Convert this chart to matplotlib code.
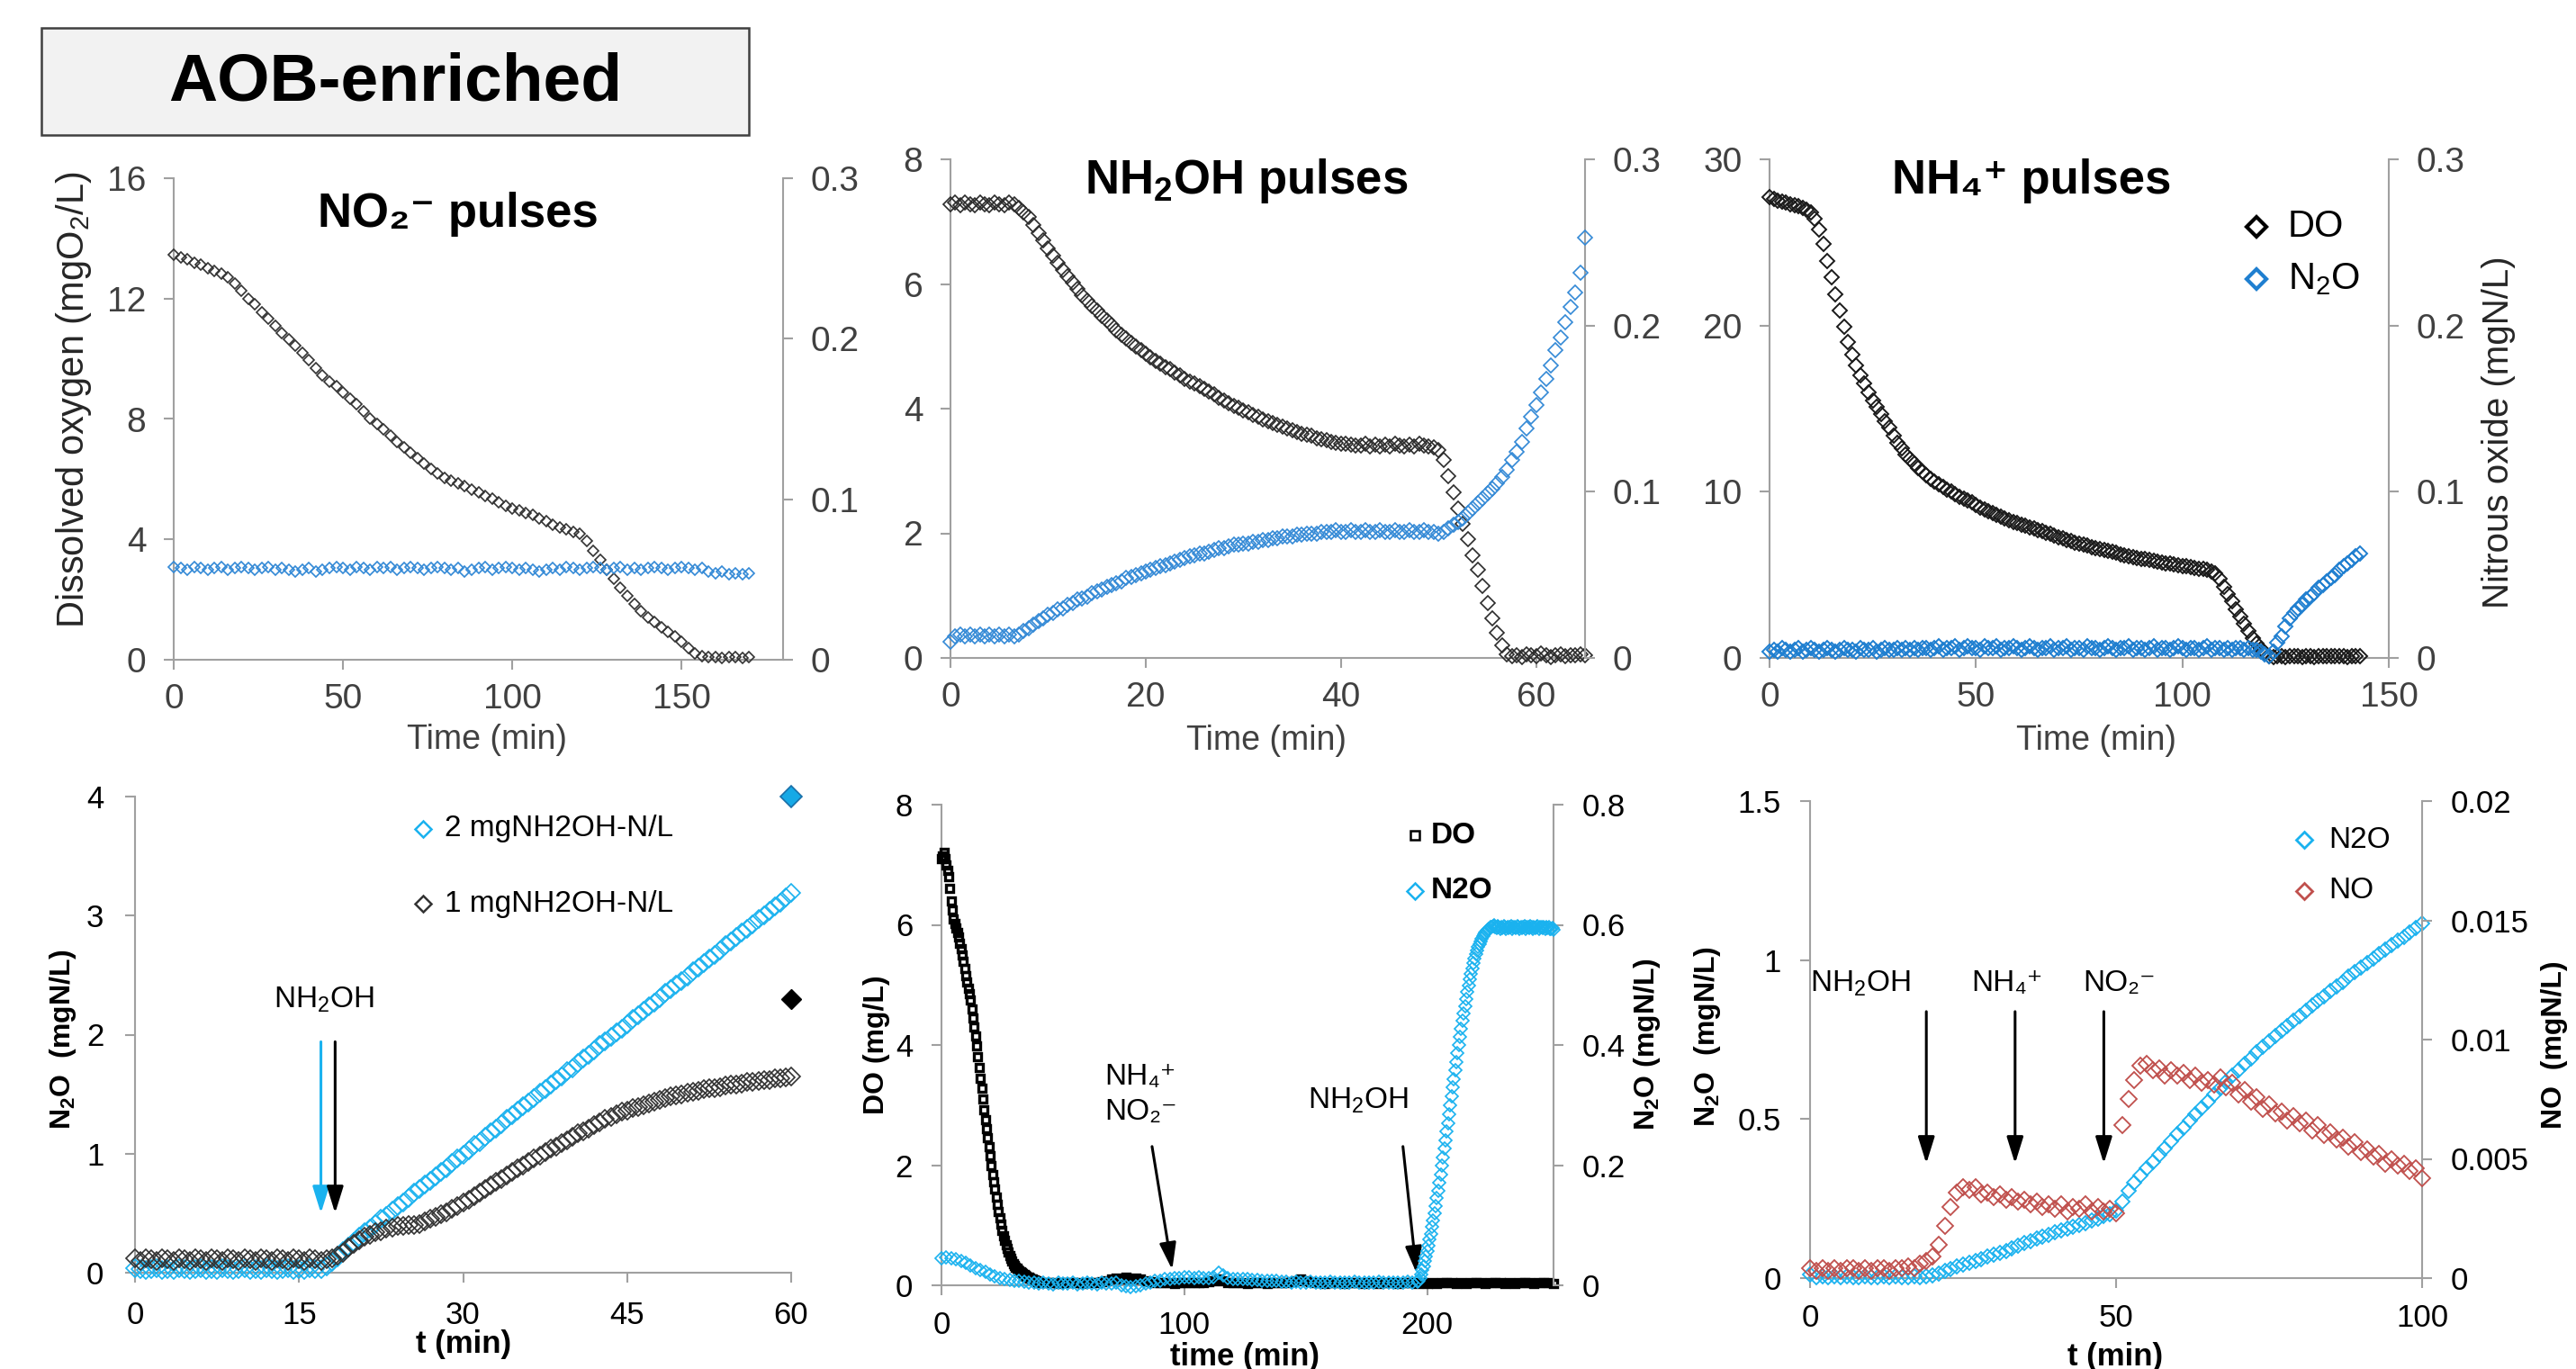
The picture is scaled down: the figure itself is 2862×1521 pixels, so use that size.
import numpy as np
import matplotlib.pyplot as plt
from matplotlib.lines import Line2D
from matplotlib.patches import Rectangle
from matplotlib.ticker import FuncFormatter

plt.rcParams['font.family'] = ['Liberation Sans Narrow', 'Liberation Sans', 'DejaVu Sans']
plt.rcParams['mathtext.default'] = 'regular'

ARIAL = ['Liberation Sans', 'DejaVu Sans']
AXIS = '#a0a0a0'
DARK = '#2b2b2b'
BLUE = '#3389d6'
CYAN = '#1ab2ef'
RED = '#c0504d'

# ---- top left: NO2- pulses (t = 0..170, every 2 min) ----
no2_do = [13.45, 13.38, 13.3, 13.2, 13.12, 13.02, 12.92, 12.82, 12.7, 12.5,
          12.25, 12.0, 11.8, 11.55, 11.33, 11.1, 10.85, 10.65, 10.43, 10.2,
          9.95, 9.7, 9.45, 9.25, 9.08, 8.88, 8.67, 8.48, 8.25, 8.02,
          7.85, 7.65, 7.45, 7.25, 7.05, 6.88, 6.7, 6.52, 6.35, 6.18,
          6.05, 5.95, 5.85, 5.78, 5.65, 5.55, 5.45, 5.35, 5.22, 5.12,
          5.03, 4.95, 4.87, 4.8, 4.7, 4.6, 4.5, 4.4, 4.33, 4.25,
          4.18, 3.95, 3.62, 3.32, 3.0, 2.68, 2.4, 2.12, 1.85, 1.6,
          1.42, 1.25, 1.08, 0.92, 0.78, 0.6, 0.4, 0.22, 0.12, 0.08,
          0.08, 0.07, 0.08, 0.08, 0.07, 0.08]
no2_n2o = [0.058, 0.057, 0.056, 0.058, 0.057, 0.056, 0.057, 0.058, 0.056, 0.057,
           0.058, 0.057, 0.056, 0.057, 0.058, 0.056, 0.057, 0.056, 0.055, 0.056,
           0.057, 0.055, 0.056, 0.057, 0.058, 0.057, 0.056, 0.058, 0.057, 0.056,
           0.058, 0.057, 0.058, 0.056, 0.057, 0.058, 0.057, 0.056, 0.057, 0.058,
           0.057, 0.056, 0.057, 0.055, 0.056, 0.057, 0.058, 0.056, 0.057, 0.058,
           0.057, 0.056, 0.057, 0.056, 0.055, 0.056, 0.057, 0.056, 0.058, 0.057,
           0.056, 0.057, 0.058, 0.057, 0.056, 0.057, 0.058, 0.056, 0.057, 0.056,
           0.057, 0.058, 0.057, 0.056, 0.057, 0.058, 0.057, 0.056, 0.057, 0.055,
           0.054, 0.055, 0.053, 0.054, 0.053, 0.054]

# ---- top middle: NH2OH pulses (t = 0..65, every 0.5 min) ----
nh2oh_do = [7.28, 7.3, 7.27, 7.3, 7.28, 7.27, 7.3, 7.28, 7.26, 7.3,
            7.28, 7.27, 7.3, 7.28, 7.22,
            7.15, 7.07, 6.95, 6.82, 6.7, 6.57, 6.45, 6.34, 6.23, 6.12,
            6.02, 5.92, 5.82, 5.73, 5.65, 5.57, 5.49, 5.41, 5.34, 5.26,
            5.19, 5.12, 5.06, 5.0, 4.94, 4.88, 4.83, 4.77, 4.72, 4.67,
            4.63, 4.58, 4.53, 4.48, 4.44, 4.4, 4.36, 4.32, 4.27, 4.23,
            4.18, 4.13, 4.09, 4.05, 4.01, 3.97, 3.94, 3.9, 3.87, 3.83,
            3.8, 3.77, 3.74, 3.71, 3.68, 3.65, 3.62, 3.6, 3.58, 3.56,
            3.53, 3.51, 3.49, 3.47, 3.45, 3.44, 3.43, 3.42, 3.41,
            3.41, 3.43, 3.4, 3.42, 3.39, 3.42, 3.4, 3.43, 3.41, 3.39,
            3.42, 3.4, 3.43, 3.41, 3.4, 3.38,
            3.33, 3.18, 2.92, 2.66, 2.4, 2.15, 1.9, 1.65, 1.42, 1.15,
            0.88, 0.63, 0.4, 0.2, 0.06,
            0.03, 0.05, 0.02, 0.06, 0.04, 0.03, 0.07, 0.04, 0.02, 0.05,
            0.06, 0.03, 0.05, 0.04, 0.06, 0.04]
nh2oh_n2o = [0.010, 0.013, 0.014, 0.013, 0.014, 0.013, 0.014, 0.013, 0.014, 0.013,
             0.014, 0.013, 0.014, 0.013, 0.014,
             0.016, 0.018, 0.020, 0.022, 0.024, 0.026, 0.027, 0.029, 0.030, 0.032,
             0.033, 0.035, 0.036, 0.037, 0.039, 0.040, 0.041, 0.043, 0.044, 0.045,
             0.046, 0.048, 0.049, 0.050, 0.051, 0.052, 0.053, 0.054, 0.055, 0.056,
             0.057, 0.058, 0.059, 0.060, 0.061, 0.062, 0.063, 0.063, 0.064, 0.065,
             0.066, 0.066, 0.067, 0.068, 0.068, 0.069, 0.069, 0.070, 0.070, 0.071,
             0.071, 0.072, 0.072, 0.073, 0.073, 0.073, 0.074, 0.074, 0.075, 0.075,
             0.075, 0.076, 0.076, 0.076, 0.077, 0.076, 0.076, 0.077, 0.076,
             0.076, 0.077, 0.076, 0.076, 0.077, 0.076, 0.076, 0.077, 0.076, 0.076,
             0.077, 0.076, 0.076, 0.077, 0.076, 0.076,
             0.075, 0.076, 0.078, 0.080, 0.082, 0.084, 0.087, 0.090, 0.093, 0.096,
             0.099, 0.102, 0.105, 0.109, 0.113,
             0.119, 0.124, 0.130, 0.138, 0.145, 0.152, 0.160, 0.168, 0.176, 0.185,
             0.193, 0.202, 0.211, 0.220, 0.232, 0.253]

# ---- top right: NH4+ pulses (t = 0..143, every min) ----
nh4_do = [27.7, 27.6, 27.5, 27.45, 27.4, 27.3, 27.25, 27.2, 27.1, 26.95,
          26.8, 26.4, 25.8, 24.9, 23.9, 22.9, 21.9, 20.9, 19.95, 19.0,
          18.25, 17.6, 17.0, 16.5, 16.0, 15.5, 15.1, 14.65, 14.25, 13.85,
          13.4, 12.95, 12.6, 12.25, 11.95, 11.7, 11.45, 11.2, 11.0, 10.8,
          10.6, 10.45, 10.3, 10.15, 10.0, 9.85, 9.72, 9.6, 9.48, 9.35,
          9.2, 9.05, 8.95, 8.85, 8.72, 8.6, 8.5, 8.4, 8.3, 8.2,
          8.12, 8.02, 7.95, 7.87, 7.78, 7.7, 7.62, 7.53, 7.45, 7.37,
          7.28, 7.2, 7.12, 7.02, 6.95, 6.88, 6.82, 6.75, 6.68, 6.62,
          6.55, 6.5, 6.44, 6.38, 6.32, 6.25, 6.2, 6.14, 6.08, 6.02,
          5.97, 5.93, 5.88, 5.84, 5.8, 5.75, 5.7, 5.66, 5.61, 5.57,
          5.53, 5.5, 5.46, 5.42, 5.38, 5.35, 5.3, 5.22, 5.08, 4.75,
          4.3, 3.85, 3.4, 2.95, 2.5, 2.05, 1.6, 1.2, 0.85, 0.55,
          0.3, 0.1, 0.05, 0.1, 0.12, 0.08, 0.1, 0.12, 0.1, 0.08,
          0.12, 0.1, 0.08, 0.11, 0.1, 0.12, 0.09, 0.1, 0.12, 0.1,
          0.08, 0.11, 0.1, 0.1]
nh4_n2o = [0.004, 0.005, 0.004, 0.006, 0.005, 0.004, 0.005, 0.006, 0.004, 0.005,
           0.006, 0.005, 0.004, 0.005, 0.006, 0.005, 0.004, 0.005, 0.006, 0.005,
           0.005, 0.004, 0.006, 0.005, 0.005, 0.006, 0.004, 0.005, 0.006, 0.005,
           0.005, 0.006, 0.005, 0.006, 0.005, 0.006, 0.005, 0.006, 0.006, 0.005,
           0.006, 0.007, 0.005, 0.006, 0.006, 0.007, 0.005, 0.006, 0.007, 0.006,
           0.006, 0.005, 0.007, 0.006, 0.006, 0.007, 0.005, 0.006, 0.006, 0.007,
           0.006, 0.005, 0.006, 0.007, 0.006, 0.005, 0.006, 0.006, 0.007, 0.005,
           0.006, 0.006, 0.007, 0.005, 0.006, 0.006, 0.005, 0.007, 0.006, 0.006,
           0.005, 0.006, 0.007, 0.006, 0.005, 0.006, 0.006, 0.007, 0.005, 0.006,
           0.006, 0.005, 0.006, 0.007, 0.005, 0.006, 0.006, 0.005, 0.006, 0.007,
           0.006, 0.005, 0.006, 0.006, 0.005, 0.006, 0.007, 0.005, 0.006, 0.006,
           0.005, 0.006, 0.005, 0.006, 0.006, 0.005, 0.006, 0.005, 0.005,
           0.004, 0.002, 0.001, 0.004, 0.009, 0.013, 0.019, 0.024, 0.027, 0.030,
           0.032, 0.035, 0.037, 0.039, 0.042, 0.044, 0.046, 0.048, 0.050, 0.053,
           0.055, 0.057, 0.059, 0.061, 0.063]

# ---- bottom left: two NH2OH doses (t = 0..60, every 0.5 min) ----
dose2_n2o = [0.04, 0.03, 0.02, 0.03, 0.04, 0.02, 0.03, 0.02, 0.04, 0.03,
             0.02, 0.03, 0.04, 0.02, 0.03, 0.02, 0.04, 0.03, 0.02, 0.03,
             0.04, 0.02, 0.03, 0.02, 0.04, 0.03, 0.02, 0.03, 0.04, 0.02,
             0.03, 0.02, 0.04, 0.03, 0.03, 0.05,
             0.09, 0.13, 0.18, 0.22, 0.26, 0.30, 0.34, 0.37, 0.41, 0.45,
             0.48, 0.52, 0.56, 0.59, 0.63, 0.67, 0.70, 0.74, 0.77, 0.81,
             0.85, 0.88, 0.92, 0.96, 0.99, 1.03, 1.07, 1.10, 1.14, 1.18,
             1.21, 1.25, 1.29, 1.32, 1.36, 1.40, 1.43, 1.47, 1.51, 1.54,
             1.58, 1.62, 1.65, 1.69, 1.72, 1.76, 1.80, 1.83, 1.87, 1.91,
             1.94, 1.98, 2.02, 2.05, 2.09, 2.13, 2.16, 2.20, 2.24, 2.27,
             2.31, 2.35, 2.38, 2.42, 2.45, 2.49, 2.53, 2.56, 2.60, 2.64,
             2.67, 2.71, 2.75, 2.78, 2.82, 2.86, 2.89, 2.93, 2.97, 3.00,
             3.04, 3.08, 3.11, 3.15, 3.19]
dose1_n2o = [0.12, 0.10, 0.12, 0.11, 0.10, 0.12, 0.11, 0.10, 0.12, 0.11,
             0.10, 0.12, 0.11, 0.10, 0.12, 0.11, 0.10, 0.12, 0.11, 0.10,
             0.12, 0.11, 0.10, 0.12, 0.11, 0.10, 0.12, 0.11, 0.10, 0.12,
             0.11, 0.10, 0.12, 0.11, 0.10, 0.11,
             0.12, 0.14, 0.17, 0.21, 0.24, 0.27, 0.30, 0.32, 0.34, 0.35,
             0.37, 0.38, 0.39, 0.39, 0.40, 0.40, 0.41, 0.43, 0.45, 0.47,
             0.49, 0.51, 0.54, 0.56, 0.59, 0.61, 0.64, 0.67, 0.70, 0.73,
             0.76, 0.79, 0.82, 0.85, 0.88, 0.90, 0.93, 0.96, 0.98, 1.01,
             1.04, 1.06, 1.09, 1.11, 1.14, 1.17, 1.19, 1.21, 1.24, 1.26,
             1.29, 1.31, 1.33, 1.35, 1.36, 1.38, 1.39, 1.41, 1.42, 1.44,
             1.45, 1.47, 1.48, 1.49, 1.50, 1.51, 1.52, 1.53, 1.54, 1.55,
             1.55, 1.56, 1.57, 1.58, 1.58, 1.59, 1.60, 1.60, 1.61, 1.62,
             1.62, 1.63, 1.63, 1.64, 1.645]
end_t = [60]
dose2_end = [4.0]
dose1_end = [2.3]

# ---- bottom middle: sequential pulses ----
seq_do_fast = [7.1, 7.15, 7.2, 7.1, 7.0, 6.9, 6.8, 6.6, 6.4, 6.25,      # t 0..40, 0.5 min
               6.1, 6.02, 5.95, 5.88, 5.8, 5.7, 5.6, 5.5, 5.4, 5.28,
               5.15, 5.05, 4.95, 4.85, 4.75, 4.6, 4.45, 4.3, 4.15, 3.98,
               3.8, 3.62, 3.45, 3.28, 3.1, 2.92, 2.75, 2.6, 2.45, 2.3,
               2.15, 2.0, 1.85, 1.72, 1.6, 1.47, 1.35, 1.23, 1.12, 1.02,
               0.92, 0.83, 0.75, 0.68, 0.62, 0.56, 0.5, 0.45, 0.4, 0.36,
               0.33, 0.3, 0.28, 0.26, 0.24, 0.22, 0.21, 0.19, 0.18, 0.16,
               0.15, 0.14, 0.13, 0.12, 0.11, 0.1, 0.09, 0.08, 0.07, 0.06,
               0.05]
seq_do_slow = [0.04, 0.05, 0.04, 0.03, 0.04, 0.05, 0.04, 0.04, 0.03, 0.05,   # t 42..252, 2 min
               0.04, 0.05, 0.06, 0.08, 0.10, 0.12, 0.10, 0.13, 0.11, 0.12,
               0.10, 0.08, 0.06, 0.05, 0.04, 0.05, 0.04, 0.03, 0.04, 0.05,
               0.04, 0.05, 0.04, 0.05, 0.06, 0.08, 0.10, 0.07, 0.05, 0.04,
               0.05, 0.04, 0.03, 0.04, 0.05, 0.04, 0.03, 0.04, 0.05, 0.04,
               0.05, 0.06, 0.08, 0.10, 0.08, 0.06, 0.05, 0.04, 0.03, 0.04,
               0.05, 0.04, 0.03, 0.04, 0.05, 0.04, 0.03, 0.04, 0.04, 0.03,
               0.04, 0.05, 0.04, 0.03, 0.04, 0.05, 0.04, 0.03, 0.04, 0.03,
               0.04, 0.03, 0.04, 0.05, 0.04, 0.03, 0.04, 0.03, 0.04, 0.05,
               0.04, 0.03, 0.04, 0.05, 0.04, 0.03, 0.04, 0.03, 0.04, 0.05,
               0.04, 0.03, 0.04, 0.05, 0.04, 0.03]
seq_n2o_flat = [0.045, 0.046, 0.045, 0.043, 0.040, 0.037, 0.033, 0.029, 0.026, 0.022,   # t 0..196, 2 min
                0.018, 0.015, 0.012, 0.010, 0.009, 0.008, 0.007, 0.006, 0.005, 0.004,
                0.003, 0.004, 0.003, 0.002, 0.004, 0.003, 0.003, 0.004, 0.002, 0.003,
                0.004, 0.003, 0.002, 0.004, 0.003, 0.003, 0.004, 0.000, -0.002, -0.003,
                -0.002, 0.000, 0.003, 0.005, 0.007, 0.008, 0.010, 0.011, 0.012, 0.012,
                0.013, 0.013, 0.012, 0.013, 0.012, 0.012, 0.014, 0.021, 0.016, 0.012,
                0.011, 0.011, 0.010, 0.010, 0.009, 0.009, 0.008, 0.008, 0.007, 0.007,
                0.006, 0.006, 0.005, 0.006, 0.005, 0.005, 0.006, 0.005, 0.004, 0.005,
                0.006, 0.005, 0.005, 0.004, 0.005, 0.006, 0.005, 0.005, 0.004, 0.005,
                0.006, 0.005, 0.005, 0.004, 0.005, 0.005, 0.006, 0.005, 0.006]
seq_n2o_rise = [0.008, 0.012, 0.018, 0.025, 0.032, 0.040, 0.048, 0.057, 0.066, 0.076,   # t 196.5..252, 0.5 min
                0.086, 0.097, 0.108, 0.120, 0.132, 0.145, 0.158, 0.171, 0.185, 0.199,
                0.213, 0.227, 0.241, 0.256, 0.270, 0.285, 0.300, 0.314, 0.329, 0.343,
                0.358, 0.372, 0.386, 0.400, 0.414, 0.427, 0.440, 0.453, 0.465, 0.477,
                0.488, 0.499, 0.509, 0.519, 0.528, 0.536, 0.544, 0.551, 0.557, 0.563,
                0.568, 0.573, 0.577, 0.581, 0.584, 0.587, 0.590, 0.592, 0.594, 0.596,
                0.597, 0.598, 0.599,
                0.597, 0.595, 0.598, 0.596, 0.594, 0.597, 0.595, 0.598, 0.596, 0.594,
                0.597, 0.595, 0.596, 0.598, 0.594, 0.596, 0.597, 0.595, 0.598, 0.596,
                0.594, 0.597, 0.595, 0.596, 0.598, 0.594, 0.596, 0.597, 0.595, 0.598,
                0.596, 0.594, 0.597, 0.595, 0.596, 0.598, 0.594, 0.596, 0.597, 0.595,
                0.596, 0.594, 0.597, 0.595, 0.596, 0.594, 0.593, 0.595, 0.592]

# ---- bottom right: N2O and NO (t = 0..100, every min) ----
mix_n2o = [0.010, 0.004, 0.005, 0.003, 0.005, 0.004, 0.005, 0.003, 0.004, 0.005,
           0.004, 0.003, 0.005, 0.004, 0.005, 0.004, 0.003, 0.005, 0.004, 0.005,
           0.008, 0.015, 0.022, 0.029, 0.036, 0.042, 0.048, 0.054, 0.060, 0.067,
           0.073, 0.080, 0.086, 0.093, 0.101, 0.110, 0.117, 0.124, 0.131, 0.137,
           0.143, 0.149, 0.155, 0.161, 0.167, 0.174, 0.180, 0.187, 0.194, 0.202,
           0.213, 0.240, 0.275, 0.300, 0.323, 0.345, 0.366, 0.387, 0.408, 0.430,
           0.452, 0.473, 0.494, 0.514, 0.534, 0.555, 0.576, 0.597, 0.617, 0.637,
           0.655, 0.673, 0.691, 0.709, 0.727, 0.744, 0.761, 0.777, 0.793, 0.809,
           0.825, 0.841, 0.857, 0.872, 0.887, 0.902, 0.917, 0.932, 0.947, 0.962,
           0.977, 0.991, 1.005, 1.019, 1.033, 1.047, 1.060, 1.073, 1.086, 1.100,
           1.114]
mix_no = [0.0004, 0.0003, 0.0004, 0.0003, 0.0004, 0.0003, 0.0004, 0.0004, 0.0003, 0.0004,
          0.0003, 0.0004, 0.0004, 0.0003, 0.0004, 0.0004, 0.0005, 0.0004, 0.0006, 0.0007,
          0.0009, 0.0014, 0.0022, 0.0030, 0.0036, 0.0038, 0.0037, 0.0038, 0.0035, 0.0036,
          0.0034, 0.0035, 0.0033, 0.0034, 0.0032, 0.0033, 0.0031, 0.0032, 0.0030, 0.0031,
          0.0029, 0.0031, 0.0028, 0.0030, 0.0029, 0.0031, 0.0028, 0.0030, 0.0028, 0.0029,
          0.0027, 0.0064, 0.0075, 0.0083, 0.0089, 0.0090, 0.0087, 0.0088, 0.0085, 0.0087,
          0.0085, 0.0086, 0.0083, 0.0085, 0.0082, 0.0083, 0.0081, 0.0084, 0.0080, 0.0082,
          0.0077, 0.0079, 0.0074, 0.0076, 0.0071, 0.0073, 0.0069, 0.0070, 0.0066, 0.0068,
          0.0065, 0.0066, 0.0062, 0.0064, 0.0060, 0.0061, 0.0058, 0.0059, 0.0055, 0.0057,
          0.0053, 0.0054, 0.0051, 0.0052, 0.0048, 0.0050, 0.0047, 0.0048, 0.0045, 0.0046,
          0.0042]

W, H = 2862, 1521
fig = plt.figure(figsize=(W / 100, H / 100), dpi=100)


def px_axes(left, top, right, bottom):
    return fig.add_axes([left / W, 1 - bottom / H, (right - left) / W, (bottom - top) / H])


def ftext(x, y, s, **kw):
    kw.setdefault('family', ARIAL)
    return fig.text(x / W, 1 - y / H, s, **kw)


def fmt(v, pos):
    return '%g' % v


def dress(ax, xlim, xticks, ylim, yticks, size, color, ypad, xpad):
    ax.set_xlim(xlim)
    ax.set_ylim(ylim)
    ax.set_xticks(xticks)
    ax.set_yticks(yticks)
    ax.xaxis.set_major_formatter(FuncFormatter(fmt))
    ax.yaxis.set_major_formatter(FuncFormatter(fmt))
    ax.spines[['top', 'right']].set_visible(False)
    ax.spines[['left', 'bottom']].set_color(AXIS)
    ax.spines[['left', 'bottom']].set_linewidth(1.5)
    ax.tick_params(length=8, width=1.5, color=AXIS, labelsize=size, labelcolor=color)
    ax.tick_params(axis='y', pad=ypad)
    ax.tick_params(axis='x', pad=xpad)
    ax.patch.set_alpha(0)


def twin(ax, ylim, yticks, size, color, pad):
    ax2 = ax.twinx()
    ax2.set_ylim(ylim)
    ax2.set_yticks(yticks)
    ax2.yaxis.set_major_formatter(FuncFormatter(fmt))
    ax2.spines[['top', 'left', 'bottom']].set_visible(False)
    ax2.spines['right'].set_color(AXIS)
    ax2.spines['right'].set_linewidth(1.5)
    ax2.tick_params(axis='y', length=8, width=1.5, color=AXIS, labelsize=size,
                    labelcolor=color, pad=pad)
    return ax2


def dots(ax, t0, step, vals, color, ms, marker='D', mew=1.0, z=3):
    t = t0 + step * np.arange(len(vals))
    ax.plot(t, vals, ls='none', marker=marker, ms=ms, mfc='none', mec=color,
            mew=mew, clip_on=False, zorder=z)


def key(x, y, tx, label, color, ms, size, marker='D', mew=2.0, weight='normal'):
    fig.add_artist(Line2D([x / W], [1 - y / H], ls='none', marker=marker, ms=ms,
                          mfc='none', mec=color, mew=mew, transform=fig.transFigure))
    ftext(tx, y, label, fontsize=size, weight=weight, va='center', ha='left')


def arrow(ax, x0, y0, x1, y1, color):
    ax.annotate('', xy=(x1, y1), xytext=(x0, y0),
                arrowprops=dict(arrowstyle='-|>,head_length=0.9,head_width=0.28',
                                color=color, lw=2.2, shrinkA=0, shrinkB=0,
                                mutation_scale=20))


# header box
fig.add_artist(Rectangle((46 / W, 1 - 150 / H), (832 - 46) / W, (150 - 31) / H,
                         transform=fig.transFigure, fc='#f2f2f2', ec='#404040', lw=1.8))
ftext(439, 92, 'AOB-enriched', fontsize=54, weight='bold', ha='center', va='center')

TOP_TICK = '#404040'
NARROW = ['Liberation Sans Narrow', 'Liberation Sans', 'DejaVu Sans']

# panel 1
ax = px_axes(193, 198, 870, 733)
dress(ax, (0, 180), [0, 50, 100, 150], (0, 16), [0, 4, 8, 12, 16], 28, TOP_TICK, 14, 11)
dots(ax, 0, 2, no2_do, '#333333', 6.5, mew=1.2)
ax2 = twin(ax, (0, 0.3), [0, 0.1, 0.2, 0.3], 28, TOP_TICK, 14)
dots(ax2, 0, 2, no2_n2o, BLUE, 6.5, mew=1.2)
ftext(509, 252, 'NO\u2082\u207b pulses', fontsize=38, weight='bold', ha='center', va='baseline')
ftext(82, 444, 'Dissolved oxygen (mgO$_2$/L)', fontsize=30, rotation=90,
      ha='center', va='center', color='#262626')
ftext(541, 822, 'Time (min)', fontsize=27, ha='center', va='center', color=TOP_TICK,
      family=NARROW)

# panel 2
ax = px_axes(1056, 177, 1761, 731)
dress(ax, (0, 65), [0, 20, 40, 60], (0, 8), [0, 2, 4, 6, 8], 28, TOP_TICK, 14, 11)
dots(ax, 0, 0.5, nh2oh_do, DARK, 8.5, mew=1.2)
ax2 = twin(ax, (0, 0.3), [0, 0.1, 0.2, 0.3], 28, TOP_TICK, 14)
dots(ax2, 0, 0.5, nh2oh_n2o, BLUE, 8.5, mew=1.2)
ftext(1385, 215, 'NH$_2$OH pulses', fontsize=38, weight='bold', ha='center', va='baseline')
ftext(1407, 823, 'Time (min)', fontsize=27, ha='center', va='center', color=TOP_TICK,
      family=NARROW)

# panel 3
ax = px_axes(1966, 177, 2654, 731)
dress(ax, (0, 150), [0, 50, 100, 150], (0, 30), [0, 10, 20, 30], 28, TOP_TICK, 14, 11)
dots(ax, 0, 1, nh4_do, '#1a1a1a', 8.5, mew=1.4)
ax2 = twin(ax, (0, 0.3), [0, 0.1, 0.2, 0.3], 28, TOP_TICK, 14)
dots(ax2, 0, 1, nh4_n2o, '#1f7fd0', 8.5, mew=1.4)
ftext(2257, 215, 'NH\u2084\u207a pulses', fontsize=38, weight='bold', ha='center', va='baseline')
ftext(2329, 823, 'Time (min)', fontsize=27, ha='center', va='center', color=TOP_TICK,
      family=NARROW)
ftext(2776, 480, 'Nitrous oxide (mgN/L)', fontsize=29, rotation=90, ha='center',
      va='center', color='#262626')
key(2507, 252, 2542, 'DO', 'black', 11, 30, mew=3.0)
key(2507, 310, 2542, 'N$_2$O', '#1f7fd0', 11, 30, mew=3.0)

# panel 4
ax = px_axes(150, 885, 879, 1414)
dress(ax, (0, 60), [0, 15, 30, 45, 60], (0, 4), [0, 1, 2, 3, 4], 25, 'black', 17, 14)
dots(ax, 0, 0.5, dose2_n2o, CYAN, 10, mew=1.2)
dots(ax, 0, 0.5, dose1_n2o, '#333333', 10, mew=1.2)
ax.plot(end_t, dose2_end, ls='none', marker='D', ms=12, mfc='#16a9e6', mec='#1a6fa8',
        mew=1.2, clip_on=False, zorder=4)
ax.plot(end_t, dose1_end, ls='none', marker='D', ms=11, mfc='black', mec='black',
        clip_on=False, zorder=4)
arrow(ax, 17.0, 1.94, 17.0, 0.50, CYAN)
arrow(ax, 18.3, 1.94, 18.3, 0.50, 'black')
ax.text(17.3, 2.29, 'NH$_2$OH', fontsize=24, ha='center', va='center')
ftext(70, 1155, 'N$_2$O  (mgN/L)', fontsize=23, weight='bold', rotation=90,
      ha='center', va='center')
ftext(515, 1494, 't (min)', fontsize=25, weight='bold', ha='center', va='center')
key(470, 921, 494, '2 mgNH2OH-N/L', CYAN, 9, 24, mew=1.8)
key(470, 1004, 494, '1 mgNH2OH-N/L', '#333333', 9, 24, mew=1.8)

# panel 5
ax = px_axes(1046, 894, 1726, 1428)
dress(ax, (0, 252), [0, 100, 200], (0, 8), [0, 2, 4, 6, 8], 25, 'black', 15, 12)
dots(ax, 0, 0.5, seq_do_fast, 'black', 6, marker='s', mew=2.4)
dots(ax, 42, 2, seq_do_slow, 'black', 6, marker='s', mew=2.4)
ax2 = twin(ax, (0, 0.8), [0, 0.2, 0.4, 0.6, 0.8], 25, 'black', 15)
dots(ax2, 0, 2, seq_n2o_flat, CYAN, 7.5, mew=1.2)
dots(ax2, 196.5, 0.5, seq_n2o_rise, CYAN, 7.5, mew=1.2)
ax.text(67.3, 3.47, 'NH\u2084\u207a', fontsize=24, ha='left', va='center')
ax.text(67.3, 2.89, 'NO\u2082\u207b', fontsize=24, ha='left', va='center')
ax.text(150.7, 3.07, 'NH$_2$OH', fontsize=24, ha='left', va='center')
arrow(ax, 86.7, 2.31, 95.0, 0.26, 'black')
arrow(ax, 190.0, 2.31, 195.6, 0.20, 'black')
ftext(974, 1161, 'DO (mg/L)', fontsize=23, weight='bold', rotation=90,
      ha='center', va='center')
ftext(1830, 1160, 'N$_2$O (mgN/L)', fontsize=23, weight='bold', rotation=90,
      ha='center', va='center')
ftext(1383, 1508, 'time (min)', fontsize=25, weight='bold', ha='center', va='center')
key(1572, 928, 1590, 'DO', 'black', 7, 24, marker='s', mew=1.8, weight='bold')
key(1572, 990, 1590, 'N2O', CYAN, 9, 24, mew=1.8, weight='bold')

# panel 6
ax = px_axes(2011, 890, 2691, 1420)
dress(ax, (0, 100), [0, 50, 100], (0, 1.5), [0, 0.5, 1, 1.5], 25, 'black', 15, 12)
dots(ax, 0, 1, mix_n2o, CYAN, 8.5, mew=1.3)
ax2 = twin(ax, (0, 0.02), [0, 0.005, 0.01, 0.015, 0.02], 25, 'black', 15)
dots(ax2, 0, 1, mix_no, RED, 9.5, mew=1.3)
ax.text(0, 0.927, 'NH$_2$OH', fontsize=24, ha='left', va='center')
ax.text(26.3, 0.927, 'NH\u2084\u207a', fontsize=24, ha='left', va='center')
ax.text(44.6, 0.927, 'NO\u2082\u207b', fontsize=24, ha='left', va='center')
for xa in [19.0, 33.5, 48.0]:
    arrow(ax, xa, 0.838, xa, 0.36, 'black')
ftext(1897, 1152, 'N$_2$O  (mgN/L)', fontsize=23, weight='bold', rotation=90,
      ha='center', va='center')
ftext(2838, 1161, 'NO  (mgN/L)', fontsize=23, weight='bold', rotation=90,
      ha='center', va='center')
ftext(2350, 1508, 't (min)', fontsize=25, weight='bold', ha='center', va='center')
key(2560, 933, 2587, 'N2O', CYAN, 9, 24, mew=2.0)
key(2560, 990, 2587, 'NO', RED, 9, 24, mew=2.0)

fig.savefig('out.png', dpi=100)
